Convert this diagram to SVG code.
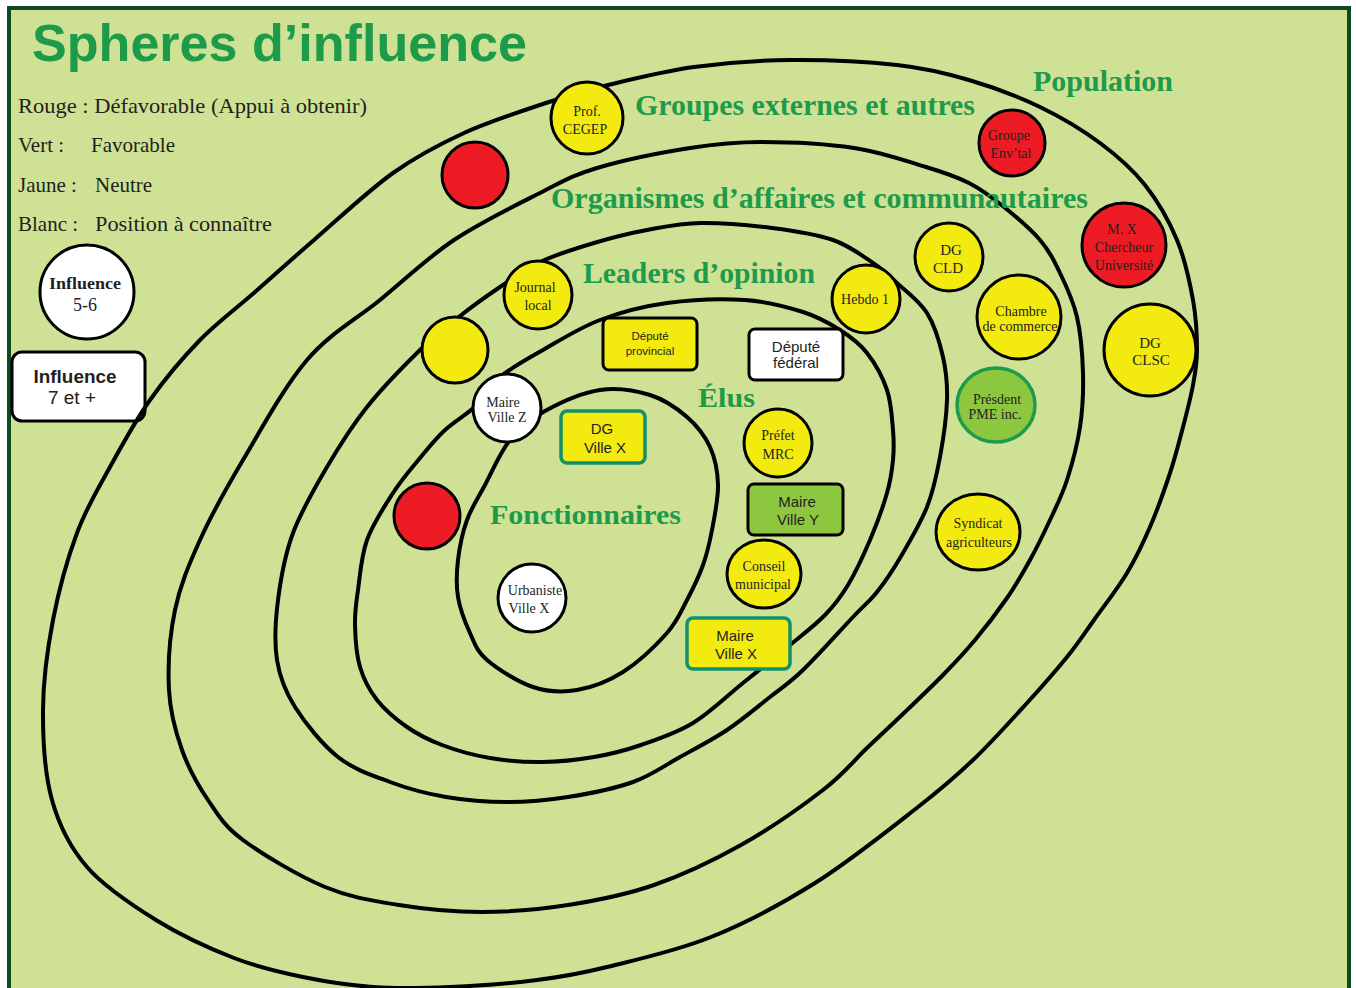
<svg xmlns="http://www.w3.org/2000/svg" width="1356" height="988" viewBox="0 0 1356 988">
<style>
.ring{fill:none;stroke:#000;stroke-width:4;stroke-linejoin:round}
.nd{stroke:#000;stroke-width:3}
.y{fill:#F3EA0F}.r{fill:#ED1C24}.w{fill:#fff}.g{fill:#8DC63F}
.gs{fill:#8DC63F;stroke:#1E9A4B;stroke-width:3.5}
.ts{fill:#F3EA0F;stroke:#13906A;stroke-width:3.5}
.t{font-family:"Liberation Serif",serif;font-size:14px;fill:#231F20;text-anchor:middle}
.t15{font-size:15px}
.s{font-family:"Liberation Sans",sans-serif;font-size:15px;fill:#231F20;text-anchor:middle}
.s11{font-size:11.5px}
.h{font-family:"Liberation Serif",serif;font-weight:bold;fill:#1E9A4B}
.leg{font-family:"Liberation Serif",serif;font-size:21px;fill:#231F20}
</style>
<rect x="0" y="0" width="1356" height="988" fill="#fff"/>
<rect x="9" y="8" width="1340" height="995" fill="#CFE194" stroke="#0D4A22" stroke-width="4"/>
<text x="32" y="61" font-family="Liberation Sans, sans-serif" font-weight="bold" font-size="52" fill="#1E9A4B" textLength="495" lengthAdjust="spacingAndGlyphs">Spheres d’influence</text>
<g id="legend">
<text class="leg" x="18" y="113" textLength="349" lengthAdjust="spacingAndGlyphs">Rouge : Défavorable (Appui à obtenir)</text>
<text class="leg" x="18" y="152">Vert :</text><text class="leg" x="91" y="152">Favorable</text>
<text class="leg" x="18" y="192">Jaune :</text><text class="leg" x="95" y="192">Neutre</text>
<text class="leg" x="18" y="231">Blanc :</text><text class="leg" x="95" y="231" textLength="177" lengthAdjust="spacingAndGlyphs">Position à connaître</text>
</g>
<g id="legend-influence-5-6">
<circle class="nd w" cx="87" cy="292" r="47"/>
<text class="t" x="85" y="289" font-weight="bold" style="font-size:17px" textLength="72" lengthAdjust="spacingAndGlyphs">Influence</text>
<text class="t" x="85" y="311" style="font-size:18px">5-6</text>
</g>
<g id="legend-influence-7">
<rect class="nd w" x="12" y="352" width="133" height="69" rx="10"/>
<text class="s" x="75" y="383" font-weight="bold" style="font-size:18px" textLength="83" lengthAdjust="spacingAndGlyphs">Influence</text>
<text class="s" x="72" y="404" style="font-size:18px" textLength="48" lengthAdjust="spacingAndGlyphs">7 et +</text>
</g>
<g id="rings">
<path class="ring" d="M790,60 C823.8,59.7 867.2,61.7 897,65 C926.8,68.3 945.2,73 969,80 C992.8,87 1018.2,96.5 1040,107 C1061.8,117.5 1082.5,130 1100,143 C1117.5,156 1132.2,168.8 1145,185 C1157.8,201.2 1169,220.8 1177,240 C1185,259.2 1189.7,281.7 1193,300 C1196.3,318.3 1197,335.8 1197,350 C1197,364.2 1195.3,372.2 1193,385 C1190.7,397.8 1186.8,412.3 1183,427 C1179.2,441.7 1175.5,456.3 1170,473 C1164.5,489.7 1157.2,510.3 1150,527 C1142.8,543.7 1136.3,557.5 1127,573 C1117.7,588.5 1104,606 1094,620 C1084,634 1078.2,643.2 1067,657 C1055.8,670.8 1042.7,685.8 1027,703 C1011.3,720.2 991.2,742.7 973,760 C954.8,777.3 944.3,786.5 918,807 C891.7,827.5 849.5,861.3 815,883 C780.5,904.7 745.7,923 711,937 C676.3,951 636,959.8 607,967 C578,974.2 563.2,976.7 537,980 C510.8,983.3 477.3,985.8 450,987 C422.7,988.2 397.5,988.7 373,987 C348.5,985.3 326.2,981.8 303,977 C279.8,972.2 258.5,967.5 234,958 C209.5,948.5 180.5,935.2 156,920 C131.5,904.8 104.3,887 87,867 C69.7,847 59.3,826.2 52,800 C44.7,773.8 42.8,740 43,710 C43.2,680 47.3,649.5 53,620 C58.7,590.5 67.5,558.5 77,533 C86.5,507.5 97.8,489.2 110,467 C122.2,444.8 135,421.2 150,400 C165,378.8 182.5,358 200,340 C217.5,322 236,308.7 255,292 C274,275.3 291,259.8 314,240 C337,220.2 368,190.8 393,173 C418,155.2 438.5,144.7 464,133 C489.5,121.3 522,111 546,103 C570,95 583.3,91 608,85 C632.7,79 663.7,71.2 694,67 C724.3,62.8 756.2,60.3 790,60 Z"/>
<path class="ring" d="M540,193 C563.8,181 572,175.5 597,168 C622,160.5 662.7,152.3 690,148 C717.3,143.7 733.7,142 761,142 C788.3,142 826.5,143.8 854,148 C881.5,152.2 906.8,161.2 926,167 C945.2,172.8 956,176.3 969,183 C982,189.7 992.2,197.5 1004,207 C1015.8,216.5 1030.7,229 1040,240 C1049.3,251 1053.8,260.2 1060,273 C1066.2,285.8 1073.2,300.3 1077,317 C1080.8,333.7 1082.5,354.7 1083,373 C1083.5,391.3 1082.7,409.2 1080,427 C1077.3,444.8 1072,464.5 1067,480 C1062,495.5 1056.2,506.7 1050,520 C1043.8,533.3 1037.2,547 1030,560 C1022.8,573 1016.2,584.7 1007,598 C997.8,611.3 985.7,627.2 975,640 C964.3,652.8 954.7,663 943,675 C931.3,687 917.7,699.8 905,712 C892.3,724.2 880.7,735 867,748 C853.3,761 844,773.8 823,790 C802,806.2 769.2,829.2 741,845 C712.8,860.8 682.8,875 654,885 C625.2,895 596.8,900.5 568,905 C539.2,909.5 509.2,912 481,912 C452.8,912 425,909.2 399,905 C373,900.8 351,897.8 325,887 C299,876.2 262.5,854.5 243,840 C223.5,825.5 218.2,815 208,800 C197.8,785 188.5,768.3 182,750 C175.5,731.7 170.2,713.3 169,690 C167.8,666.7 169.8,635 175,610 C180.2,585 188.7,565 200,540 C211.3,515 225.2,490 243,460 C260.8,430 284.2,386.7 307,360 C329.8,333.3 355.5,320 380,300 C404.5,280 427.3,257.8 454,240 C480.7,222.2 516.2,205 540,193 Z"/>
<path class="ring" d="M540,262 C555.7,254.7 576.2,248.3 594,243 C611.8,237.7 629.2,233.3 647,230 C664.8,226.7 680.2,223.3 701,223 C721.8,222.7 750,225.2 772,228 C794,230.8 816.2,234.2 833,240 C849.8,245.8 862.3,255.8 873,263 C883.7,270.2 888,274.7 897,283 C906,291.3 919.3,300.7 927,313 C934.7,325.3 939.7,342.5 943,357 C946.3,371.5 947.5,383.3 947,400 C946.5,416.7 943.3,439.2 940,457 C936.7,474.8 933.7,490.2 927,507 C920.3,523.8 908.3,543.8 900,558 C891.7,572.2 884.8,582.2 877,592 C869.2,601.8 865.3,604 853,617 C840.7,630 816.8,656.7 803,670 C789.2,683.3 782.7,687 770,697 C757.3,707 742,720 727,730 C712,740 695.7,748.3 680,757 C664.3,765.7 651.7,775.3 633,782 C614.3,788.7 589,793.7 568,797 C547,800.3 527.3,802 507,802 C486.7,802 465.5,800.3 446,797 C426.5,793.7 408,788.7 390,782 C372,775.3 353.8,769.5 338,757 C322.2,744.5 305.2,723.2 295,707 C284.8,690.8 279.8,677.8 277,660 C274.2,642.2 275.3,621.2 278,600 C280.7,578.8 284.8,555.2 293,533 C301.2,510.8 314.7,488 327,467 C339.3,446 351.5,426.5 367,407 C382.5,387.5 404.5,365.2 420,350 C435.5,334.8 446.7,326.5 460,316 C473.3,305.5 486.7,296 500,287 C513.3,278 524.3,269.3 540,262 Z"/>
<path class="ring" d="M477,405 C486.2,396.2 489,386.2 500,377 C511,367.8 526.3,359.5 543,350 C559.7,340.5 579.3,327.8 600,320 C620.7,312.2 642.8,306.3 667,303 C691.2,299.7 722.3,298.5 745,300 C767.7,301.5 787.2,307 803,312 C818.8,317 829.3,323.2 840,330 C850.7,336.8 859.2,343 867,353 C874.8,363 882.7,377.2 887,390 C891.3,402.8 892,418.3 893,430 C894,441.7 894,449.5 893,460 C892,470.5 890.8,479.7 887,493 C883.2,506.3 876.5,524.7 870,540 C863.5,555.3 855.5,572.5 848,585 C840.5,597.5 834.7,605 825,615 C815.3,625 803.7,633.7 790,645 C776.3,656.3 759.2,670 743,683 C726.8,696 710,712.7 693,723 C676,733.3 657.5,739.3 641,745 C624.5,750.7 610.5,754.2 594,757 C577.5,759.8 559.3,761.8 542,762 C524.7,762.2 506.7,760.8 490,758 C473.3,755.2 455.8,750.2 442,745 C428.2,739.8 417.8,734.5 407,727 C396.2,719.5 384.8,710 377,700 C369.2,690 363.7,679.5 360,667 C356.3,654.5 355.3,637.8 355,625 C354.7,612.2 356,604.2 358,590 C360,575.8 361.2,556.2 367,540 C372.8,523.8 384.2,506.7 393,493 C401.8,479.3 411.3,468.5 420,458 C428.7,447.5 435.5,438.8 445,430 C454.5,421.2 467.8,413.8 477,405 Z"/>
<path class="ring" d="M545,411 C560,402.7 582.5,392.7 600,390 C617.5,387.3 635.5,390.5 650,395 C664.5,399.5 677,408.3 687,417 C697,425.7 704.8,435.7 710,447 C715.2,458.3 717.7,471.2 718,485 C718.3,498.8 714.5,516.7 712,530 C709.5,543.3 707.2,553.3 703,565 C698.8,576.7 693,588.7 687,600 C681,611.3 677.7,621 667,633 C656.3,645 638,662.5 623,672 C608,681.5 592,687.5 577,690 C562,692.5 548,692 533,687 C518,682 497.5,669 487,660 C476.5,651 474.8,643.5 470,633 C465.2,622.5 460,609.2 458,597 C456,584.8 456.5,572.8 458,560 C459.5,547.2 462.5,532.5 467,520 C471.5,507.5 477.8,498.3 485,485 C492.2,471.7 500,452.3 510,440 C520,427.7 530,419.3 545,411 Z"/>
</g>
<text class="h" x="1033" y="91" font-size="29" textLength="140" lengthAdjust="spacingAndGlyphs">Population</text>
<text class="h" x="635" y="115" font-size="29" textLength="340" lengthAdjust="spacingAndGlyphs">Groupes externes et autres</text>
<text class="h" x="551" y="208" font-size="29" textLength="537" lengthAdjust="spacingAndGlyphs">Organismes d’affaires et communautaires</text>
<text class="h" x="583" y="283" font-size="29" textLength="232" lengthAdjust="spacingAndGlyphs">Leaders d’opinion</text>
<text class="h" x="698" y="407" font-size="28" textLength="57" lengthAdjust="spacingAndGlyphs">Élus</text>
<text class="h" x="490" y="524" font-size="28" textLength="191" lengthAdjust="spacingAndGlyphs">Fonctionnaires</text>
<g id="prof-cegep"><circle class="nd y" cx="587" cy="118" r="36"/><text class="t" x="587" y="116">Prof.</text><text class="t" x="585" y="134">CEGEP</text></g>
<g id="red-1"><circle class="nd r" cx="475" cy="175" r="33"/></g>
<g id="groupe-envtal"><circle class="nd r" cx="1012" cy="143" r="33"/><text class="t" x="1009" y="140">Groupe</text><text class="t" x="1011" y="158">Env’tal</text></g>
<g id="mx-chercheur"><circle class="nd r" cx="1124" cy="245" r="42"/><text class="t" x="1122" y="234">M. X</text><text class="t" x="1124" y="252">Chercheur</text><text class="t" x="1124" y="270">Université</text></g>
<g id="dg-cld"><circle class="nd y" cx="949" cy="257" r="34"/><text class="t t15" x="951" y="255">DG</text><text class="t t15" x="948" y="273">CLD</text></g>
<g id="hebdo-1"><circle class="nd y" cx="866" cy="299" r="34"/><text class="t" x="865" y="304">Hebdo 1</text></g>
<g id="chambre-commerce"><circle class="nd y" cx="1019" cy="317" r="42"/><text class="t" x="1021" y="316">Chambre</text><text class="t" x="1020" y="331">de commerce</text></g>
<g id="dg-clsc"><circle class="nd y" cx="1150" cy="350" r="46"/><text class="t t15" x="1150" y="348">DG</text><text class="t t15" x="1151" y="365">CLSC</text></g>
<g id="president-pme"><ellipse class="gs" cx="996" cy="405" rx="39" ry="37"/><text class="t" x="997" y="404">Présdent</text><text class="t" x="995" y="419">PME inc.</text></g>
<g id="syndicat"><ellipse class="nd y" cx="978" cy="532" rx="42" ry="38"/><text class="t" x="978" y="528">Syndicat</text><text class="t" x="979" y="547">agriculteurs</text></g>
<g id="journal-local"><circle class="nd y" cx="538" cy="295" r="34"/><text class="t" x="535" y="292">Journal</text><text class="t" x="538" y="310">local</text></g>
<g id="yellow-1"><circle class="nd y" cx="455" cy="350" r="33"/></g>
<g id="maire-ville-z"><circle class="nd w" cx="507" cy="408" r="34"/><text class="t" x="503" y="407">Maire</text><text class="t" x="507" y="422">Ville Z</text></g>
<g id="red-2"><circle class="nd r" cx="427" cy="516" r="33"/></g>
<g id="urbaniste"><circle class="nd w" cx="532" cy="598" r="34"/><text class="t" x="535" y="595">Urbaniste</text><text class="t" x="529" y="613">Ville X</text></g>
<g id="prefet-mrc"><circle class="nd y" cx="778" cy="443" r="34"/><text class="t" x="778" y="440">Préfet</text><text class="t" x="778" y="459">MRC</text></g>
<g id="conseil-municipal"><ellipse class="nd y" cx="764" cy="574" rx="37" ry="34"/><text class="t" x="764" y="571">Conseil</text><text class="t" x="763" y="589">municipal</text></g>
<g id="depute-provincial"><rect class="nd y" x="603" y="318" width="94" height="52" rx="6"/><text class="s s11" x="650" y="340">Député</text><text class="s s11" x="650" y="355">provincial</text></g>
<g id="depute-federal"><rect class="nd w" x="749" y="329" width="94" height="51" rx="6"/><text class="s" x="796" y="352">Député</text><text class="s" x="796" y="368">fédéral</text></g>
<g id="dg-ville-x"><rect class="ts" x="561" y="411" width="84" height="52" rx="6"/><text class="s" x="602" y="434">DG</text><text class="s" x="605" y="453">Ville X</text></g>
<g id="maire-ville-y"><rect class="nd g" x="748" y="484" width="95" height="51" rx="6"/><text class="s" x="797" y="507">Maire</text><text class="s" x="798" y="525">Ville Y</text></g>
<g id="maire-ville-x"><rect class="ts" x="687" y="618" width="103" height="51" rx="6"/><text class="s" x="735" y="641">Maire</text><text class="s" x="736" y="659">Ville X</text></g>
</svg>
